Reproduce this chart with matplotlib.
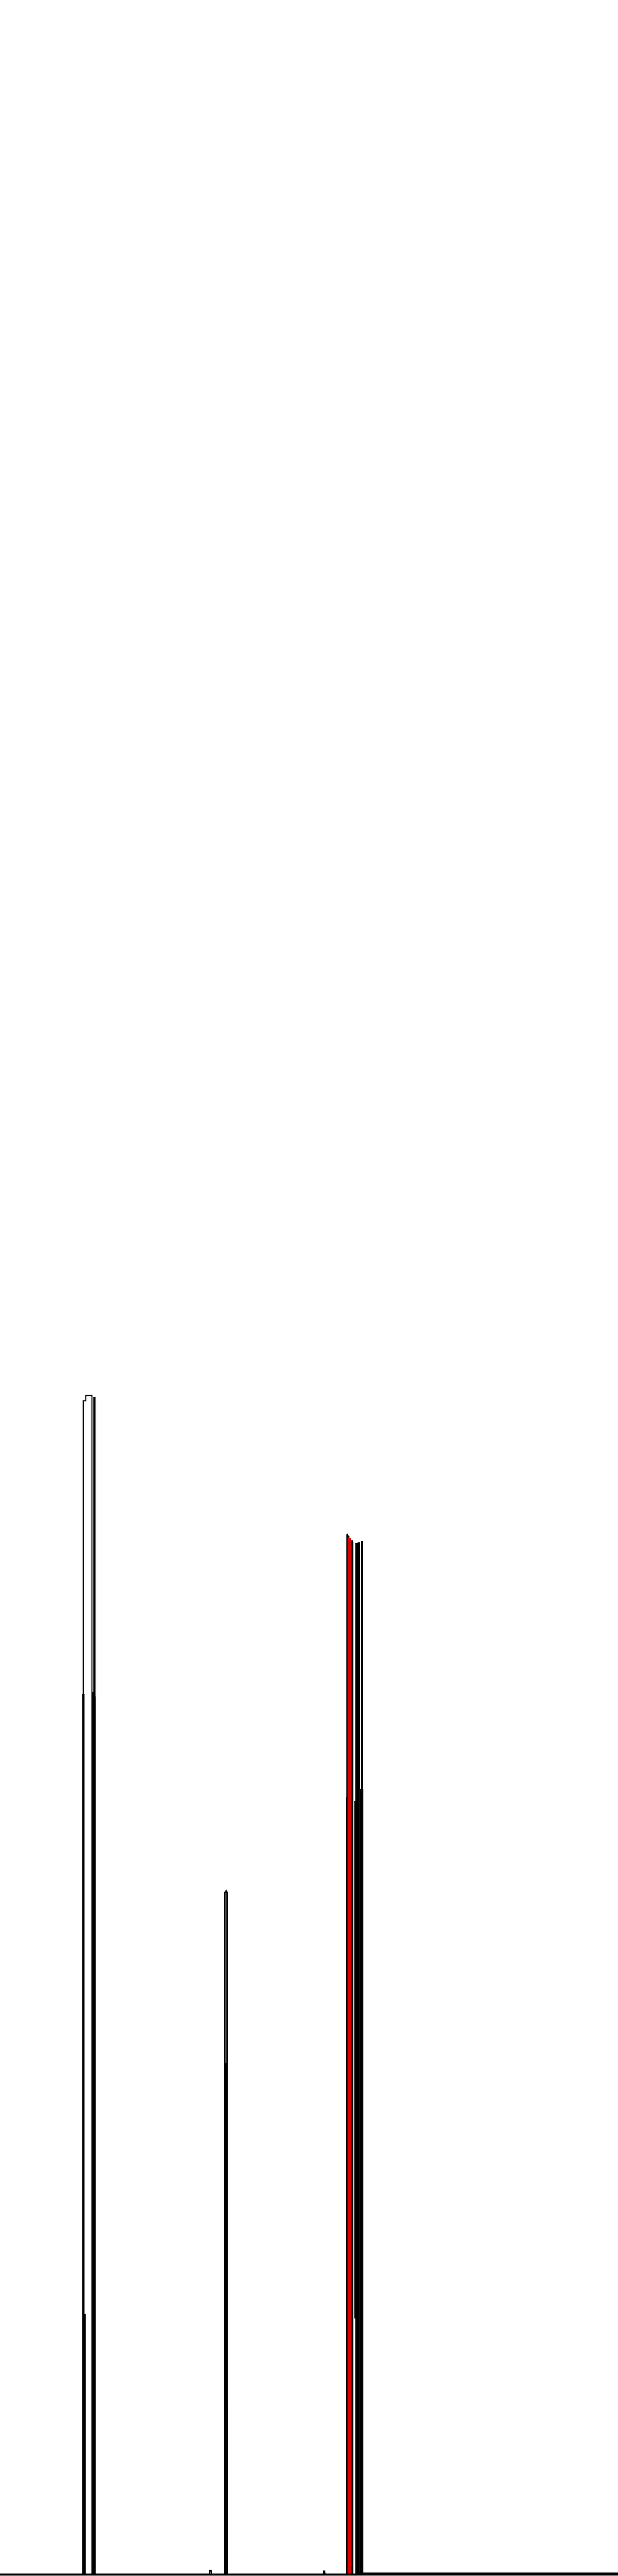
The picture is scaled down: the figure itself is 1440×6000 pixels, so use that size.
import matplotlib
matplotlib.use("Agg")
import matplotlib.pyplot as plt

# ---- data (x position, value) ----
# wide outlined peak near x~200
peak1_x = [0, 194, 194, 199, 199, 214, 214, 1440]
peak1_y = [0, 0, 2735, 2735, 2747, 2747, 0, 0]
peak1b_x = [0, 218, 218, 220, 220, 1440]
peak1b_y = [0, 0, 2742, 2742, 0, 0]
peak1c_x = [0, 193, 193, 195, 195, 1440]
peak1c_y = [0, 0, 2050, 2050, 0, 0]
peak1d_x = [0, 216, 216, 221, 221, 1440]
peak1d_y = [0, 0, 2056, 2045, 0, 0]
peak1e_x = [0, 195, 195, 197, 197, 1440]
peak1e_y = [0, 0, 607, 607, 0, 0]

# narrow peak near x~527
peak2_x = [0, 524, 524, 527, 529, 529, 1440]
peak2_y = [0, 0, 1588, 1593, 1588, 0, 0]
peak2b_x = [0, 526, 526, 528, 528, 1440]
peak2b_y = [0, 0, 1190, 1190, 0, 0]
peak2c_x = [0, 525, 525, 529, 529, 1440]
peak2c_y = [0, 0, 405, 405, 0, 0]

# small bumps
bump_x = [0, 488, 489, 492, 493, 753, 754, 756, 757, 1440]
bump_y = [0, 0, 10, 10, 0, 0, 8, 8, 0, 0]

# cluster near x~810-845
red1_x = [0, 811, 811, 814, 814, 1440]
red1_y = [0, 0, 2416, 2410, 0, 0]
red2_x = [0, 816, 816, 818, 818, 1440]
red2_y = [0, 0, 2414, 2408, 0, 0]
blk1_x = [0, 809, 809, 812, 812, 1440]
blk1_y = [0, 0, 2424, 2418, 0, 0]
blk2_x = [0, 820, 820, 822, 822, 1440]
blk2_y = [0, 0, 2409, 2405, 0, 0]
blk3_x = [0, 829, 829, 831, 831, 1440]
blk3_y = [0, 0, 2402, 2402, 4, 4]
blk4_x = [0, 834, 834, 836, 836, 1440]
blk4_y = [0, 0, 2404, 2404, 4, 4]
blk5_x = [0, 842, 842, 844, 844, 1440]
blk5_y = [0, 0, 2407, 2407, 4, 4]
blk9_x = [0, 808, 808, 810, 810, 1440]
blk9_y = [0, 0, 1810, 1810, 0, 0]
blk10_x = [0, 840, 840, 845, 845, 1440]
blk10_y = [0, 0, 1830, 1830, 0, 0]

# dense band inside the cluster (lower / upper value, x span)
band_x = [825, 838]
band_low = [597, 597]
band_high = [1802, 1802]

baseline_x = [0, 1440]
baseline_y = [0, 0]

black_series = [
    (peak1_x, peak1_y), (peak1b_x, peak1b_y), (peak1c_x, peak1c_y),
    (peak1d_x, peak1d_y), (peak1e_x, peak1e_y),
    (peak2_x, peak2_y), (peak2b_x, peak2b_y), (peak2c_x, peak2c_y),
    (bump_x, bump_y),
    (blk1_x, blk1_y), (blk2_x, blk2_y), (blk3_x, blk3_y), (blk4_x, blk4_y),
    (blk5_x, blk5_y), (blk9_x, blk9_y), (blk10_x, blk10_y),
]
red_series = [(red1_x, red1_y), (red2_x, red2_y)]

fig = plt.figure(figsize=(14.4, 60), dpi=100)
fig.patch.set_facecolor("#ffffff")
ax = fig.add_axes([0, 0, 1, 1])
ax.set_facecolor("#ffffff")

ax.fill_between(band_x, band_low, band_high, color="black", lw=0)
for xs, ys in black_series:
    ax.plot(xs, ys, color="black", lw=2.2, solid_joinstyle="miter")
for xs, ys in red_series:
    ax.plot(xs, ys, color="#e00000", lw=2.2, solid_joinstyle="miter")
ax.plot(baseline_x, baseline_y, color="black", lw=3.0)

ax.set_xlim(0, 1440)
ax.set_ylim(-3, 5997)
ax.axis("off")

fig.savefig("out.png", dpi=100)
